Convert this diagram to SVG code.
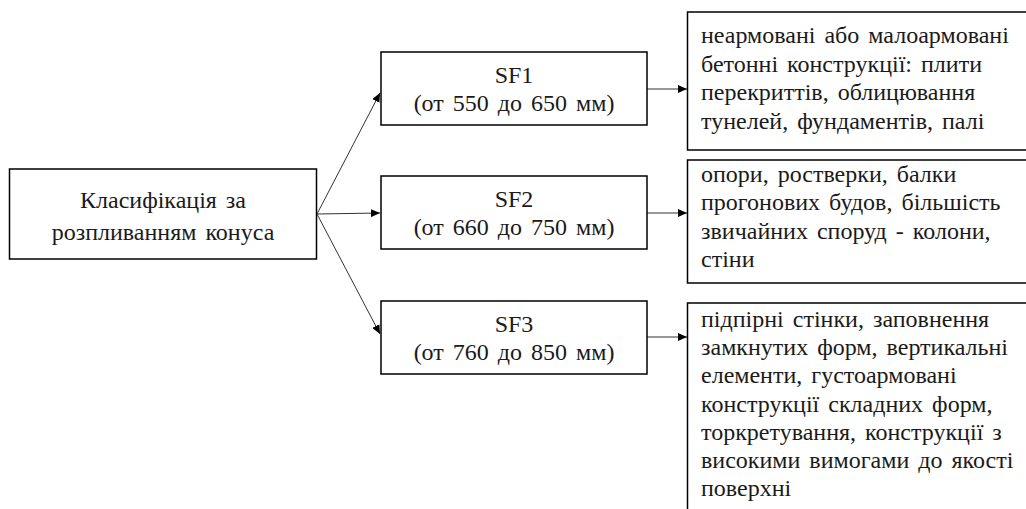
<svg xmlns="http://www.w3.org/2000/svg" width="1026" height="509" viewBox="0 0 1026 509">
<style>
.box{fill:#fff;stroke:#000;stroke-width:1.5}
.c{text-anchor:middle}
.conn{stroke:#333;stroke-width:1;fill:none}
</style>
<defs>
<marker id="ah" markerWidth="9" markerHeight="8" refX="9" refY="4" orient="auto" markerUnits="userSpaceOnUse">
<path d="M0,0 L9,4 L0,8 Z" fill="#000"/>
</marker>
</defs>
<rect width="1026" height="509" fill="#fff"/>
<g id="connectors">
<line class="conn" x1="317" y1="214" x2="380" y2="93" marker-end="url(#ah)"/>
<line class="conn" x1="317" y1="214" x2="380" y2="213" marker-end="url(#ah)"/>
<line class="conn" x1="317" y1="214" x2="380" y2="334" marker-end="url(#ah)"/>
<line class="conn" x1="647" y1="89" x2="687" y2="89" marker-end="url(#ah)"/>
<line class="conn" x1="647" y1="213" x2="687" y2="213" marker-end="url(#ah)"/>
<line class="conn" x1="647" y1="337" x2="687" y2="337" marker-end="url(#ah)"/>
</g>
<g font-family="Liberation Serif, Times New Roman, serif" font-size="24" word-spacing="3" fill="#1a1a1a">
<g id="root">
<rect class="box" x="9.5" y="169" width="307" height="90"/>
<text class="c" x="163" y="208">Класифікація за</text>
<text class="c" x="163" y="240">розпливанням конуса</text>
</g>
<g id="sf1">
<rect class="box" x="381" y="52" width="266" height="73"/>
<text class="c" x="514" y="83">SF1</text>
<text class="c" x="514" y="111">(от 550 до 650 мм)</text>
</g>
<g id="sf2">
<rect class="box" x="381" y="176" width="266" height="73"/>
<text class="c" x="514" y="207">SF2</text>
<text class="c" x="514" y="235">(от 660 до 750 мм)</text>
</g>
<g id="sf3">
<rect class="box" x="381" y="301" width="266" height="73"/>
<text class="c" x="514" y="332">SF3</text>
<text class="c" x="514" y="360">(от 760 до 850 мм)</text>
</g>
<g id="desc1">
<rect class="box" x="687.5" y="12" width="345" height="138"/>
<text x="701" y="43">неармовані або малоармовані</text>
<text x="701" y="72">бетонні конструкції: плити</text>
<text x="701" y="100">перекриттів, облицювання</text>
<text x="701" y="129">тунелей, фундаментів, палі</text>
</g>
<g id="desc2">
<rect class="box" x="687.5" y="160" width="345" height="123"/>
<text x="701" y="182">опори, ростверки, балки</text>
<text x="701" y="210">прогонових будов, більшість</text>
<text x="701" y="239">звичайних споруд - колони,</text>
<text x="701" y="267">стіни</text>
</g>
<g id="desc3">
<rect class="box" x="687.5" y="303" width="345" height="220"/>
<text x="701" y="327">підпірні стінки, заповнення</text>
<text x="701" y="355">замкнутих форм, вертикальні</text>
<text x="701" y="383">елементи, густоармовані</text>
<text x="701" y="412">конструкції складних форм,</text>
<text x="701" y="440">торкретування, конструкції з</text>
<text x="701" y="468">високими вимогами до якості</text>
<text x="701" y="496">поверхні</text>
</g>
</g>
</svg>
